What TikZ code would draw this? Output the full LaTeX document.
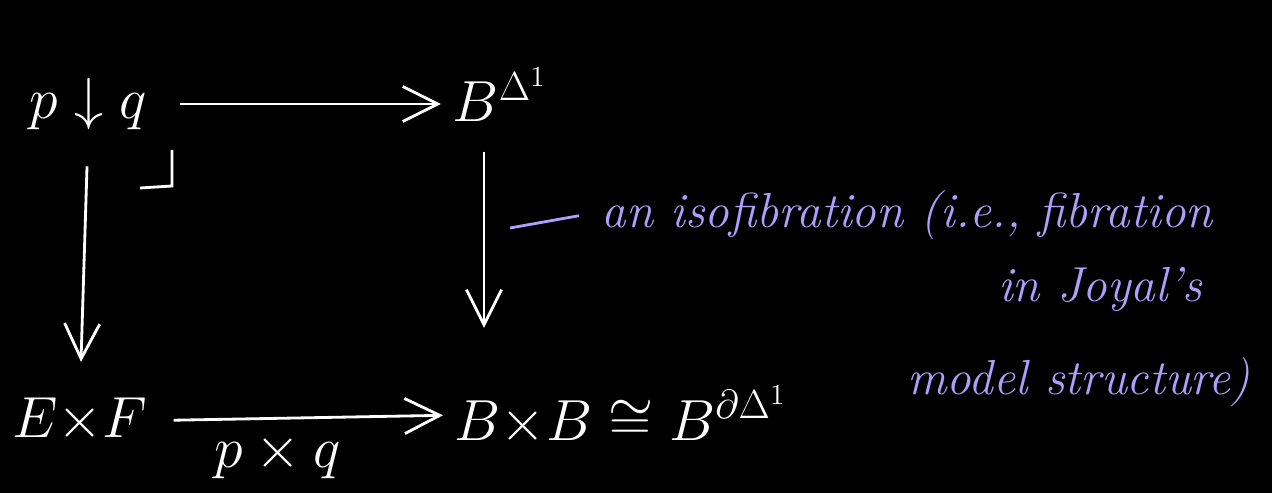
\RequirePackage{fix-cm}
\documentclass[tikz,border=0pt]{standalone}
\usepackage{amssymb}
\usetikzlibrary{arrows.meta}

\definecolor{lavanda}{RGB}{176,158,252}

\tikzset{
  obj/.style={text=white, font=\fontsize{33}{40}\selectfont, inner sep=2pt},
  nota/.style={text=lavanda, font=\fontsize{28}{34}\selectfont\itshape, inner sep=0pt},
}

\begin{document}
\begin{tikzpicture}[x=0.02cm, y=-0.02cm, line width=1.6pt,
    >={Straight Barb[length=20pt,width=20pt]}]
        % Fondo negro
        \useasboundingbox (0,0) rectangle (1272,493);
        \fill[black] (0,0) rectangle (1272,493);
        % Objetos del cuadrado
        \node[obj] (pq) at (88,104) {$p\downarrow q$};
        \node[obj, anchor=base west] (Bd) at (448,122) {$B^{\Delta^1}$};
        \node[obj, anchor=base] (ExF) at (80,438) {$E{\times}F$};
        \node[obj, anchor=base west] (BB) at (450,440) {$B{\times}B\cong B^{\partial\Delta^1}$};
        \coordinate (rcol) at (484,0);
        % Flechas
        \draw[->, white, shorten <=16pt, shorten >=4pt] (pq.east) -- (Bd.west |- pq.east);
        \draw[->, white, shorten <=18pt, shorten >=18pt] (pq.south) -- (ExF.north);
        \draw[->, white, shorten <=14pt, shorten >=30pt] (Bd.south -| rcol) -- (BB.north -| rcol);
        \draw[->, white, shorten <=12pt, shorten >=4pt] (ExF.east) -- (BB.west)
            node[obj, pos=0.42, below=6pt] (lab) {$p\times q$};
        % Esquina del pullback
        \draw[white] (140,188) -- (172,186) -- (172,150);
        % Comentario sobre la isofibracion
        \node[nota, anchor=base west] (nota1) at (600,228) {an isofibration (i.e., fibration};
        \node[nota, anchor=base] (nota2) at (1100,302) {in Joyal's};
        \node[nota, anchor=base east] (nota3) at (1252,395) {model structure)};
        \coordinate (tick) at (510,228);
        \draw[lavanda] (tick) -- ([xshift=-12pt]nota1.west);
    \end{tikzpicture}
\end{document}
